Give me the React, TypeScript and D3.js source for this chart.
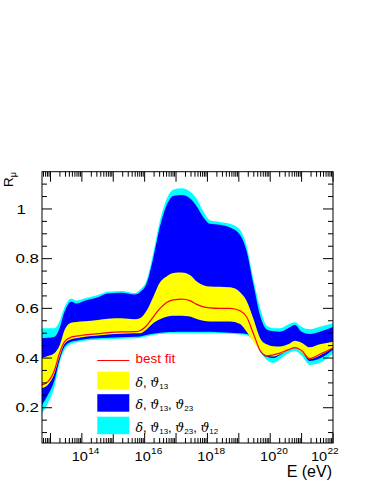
import React, { useEffect, useRef } from "react";
import * as d3 from "d3";

// log10(E / eV) sampling points
const logE = [12.73, 12.92, 13.13, 13.29, 13.45, 13.66, 13.82, 14.09, 14.51, 14.83, 15.26, 15.68, 15.85, 16.06, 16.27, 16.49, 16.7, 16.91, 17.18, 17.44, 17.66, 17.87, 18.08, 18.4, 18.72, 19.04, 19.25, 19.46, 19.68, 19.89, 20.1, 20.31, 20.57, 20.79, 21.0, 21.26, 21.58, 22.0];

// delta, th13, th23, th12 band
const cyanTop = [0.52, 0.52, 0.52, 0.548, 0.605, 0.64, 0.632, 0.641, 0.654, 0.667, 0.67, 0.662, 0.675, 0.712, 0.82, 0.955, 1.04, 1.077, 1.083, 1.07, 1.04, 0.99, 0.955, 0.948, 0.94, 0.915, 0.85, 0.72, 0.6, 0.53, 0.52, 0.52, 0.535, 0.544, 0.525, 0.516, 0.526, 0.54];
const cyanBottom = [0.178, 0.218, 0.285, 0.38, 0.433, 0.457, 0.463, 0.47, 0.474, 0.476, 0.478, 0.48, 0.481, 0.487, 0.493, 0.497, 0.499, 0.5, 0.5, 0.5, 0.5, 0.5, 0.5, 0.499, 0.498, 0.495, 0.492, 0.47, 0.425, 0.392, 0.38, 0.395, 0.418, 0.428, 0.41, 0.372, 0.38, 0.418];

// delta, th13, th23 band
const blueTop = [0.48, 0.482, 0.486, 0.52, 0.587, 0.627, 0.62, 0.631, 0.645, 0.66, 0.663, 0.656, 0.665, 0.7, 0.8, 0.93, 1.015, 1.052, 1.056, 1.043, 1.01, 0.967, 0.94, 0.936, 0.925, 0.895, 0.83, 0.7, 0.57, 0.515, 0.508, 0.506, 0.52, 0.533, 0.506, 0.497, 0.506, 0.525];
const blueBottom = [0.211, 0.252, 0.312, 0.392, 0.446, 0.466, 0.47, 0.476, 0.48, 0.482, 0.484, 0.486, 0.487, 0.493, 0.498, 0.502, 0.504, 0.505, 0.506, 0.506, 0.506, 0.506, 0.506, 0.504, 0.502, 0.5, 0.497, 0.48, 0.44, 0.405, 0.4, 0.412, 0.43, 0.44, 0.426, 0.388, 0.398, 0.433];

// delta, th13 band
const yellowTop = [0.4, 0.408, 0.42, 0.45, 0.513, 0.542, 0.545, 0.548, 0.553, 0.558, 0.56, 0.556, 0.56, 0.59, 0.645, 0.705, 0.728, 0.742, 0.744, 0.734, 0.708, 0.693, 0.688, 0.687, 0.685, 0.665, 0.63, 0.56, 0.48, 0.455, 0.447, 0.446, 0.455, 0.47, 0.462, 0.443, 0.455, 0.466];
const yellowBottom = [0.278, 0.292, 0.339, 0.406, 0.457, 0.476, 0.48, 0.486, 0.491, 0.495, 0.498, 0.5, 0.5, 0.515, 0.54, 0.556, 0.566, 0.57, 0.57, 0.567, 0.557, 0.55, 0.547, 0.547, 0.547, 0.537, 0.506, 0.468, 0.43, 0.41, 0.406, 0.415, 0.43, 0.44, 0.424, 0.395, 0.41, 0.44];

// best fit
const bestFit = [0.292, 0.305, 0.352, 0.42, 0.466, 0.484, 0.488, 0.493, 0.498, 0.502, 0.505, 0.506, 0.51, 0.53, 0.565, 0.6, 0.624, 0.634, 0.637, 0.631, 0.616, 0.606, 0.602, 0.6, 0.6, 0.59, 0.565, 0.5, 0.43, 0.408, 0.413, 0.42, 0.433, 0.442, 0.43, 0.398, 0.415, 0.44];

const yTickLabels = [0.2, 0.4, 0.6, 0.8, 1];
const xLabelExponents = [14, 16, 18, 20, 22];

const bands = [
    {name: "cyan", top: cyanTop, bottom: cyanBottom, color: "#00ffff"},
    {name: "blue", top: blueTop, bottom: blueBottom, color: "#0000ff"},
    {name: "yellow", top: yellowTop, bottom: yellowBottom, color: "#ffff00"}
];

// legend: greek parts are italic, subscripts small
const legendEntries = [
    {color: "#ffff00", parts: [["δ", "g"], [", ", "t"], ["ϑ", "g"], ["13", "s"]]},
    {color: "#0000ff", parts: [["δ", "g"], [", ", "t"], ["ϑ", "g"], ["13", "s"], [", ", "t"], ["ϑ", "g"], ["23", "s"]]},
    {color: "#00ffff", parts: [["δ", "g"], [", ", "t"], ["ϑ", "g"], ["13", "s"], [", ", "t"], ["ϑ", "g"], ["23", "s"], [", ", "t"], ["ϑ", "g"], ["12", "s"]]}
];

const WIDTH = 374;
const HEIGHT = 484;
const frame = {left: 42, right: 333, top: 171.7, bottom: 443};
const FONT = "'Liberation Sans', Arial, Helvetica, sans-serif";

const renderChart = (svg) => {
    svg.selectAll("*").remove();

    const x = d3.scaleLog()
        .domain([Math.pow(10, 12.73), 1e22])
        .range([frame.left, frame.right]);
    const y = d3.scaleLinear()
        .domain([0.058, 1.15])
        .range([frame.bottom, frame.top]);

    const energies = logE.map(d => Math.pow(10, d));

    svg.append("defs").append("clipPath")
        .attr("id", "plot-clip")
        .append("rect")
        .attr("x", frame.left)
        .attr("y", frame.top)
        .attr("width", frame.right - frame.left)
        .attr("height", frame.bottom - frame.top);

    const plotG = svg.append("g").attr("clip-path", "url(#plot-clip)");

    bands.forEach(band => {
        const area = d3.area()
            .x((d, i) => x(energies[i]))
            .y0((d, i) => y(band.bottom[i]))
            .y1((d, i) => y(band.top[i]))
            .curve(d3.curveMonotoneX);
        plotG.append("path")
            .attr("class", "band-" + band.name)
            .attr("d", area(logE))
            .attr("fill", band.color);
    });

    const line = d3.line()
        .x((d, i) => x(energies[i]))
        .y(d => y(d))
        .curve(d3.curveMonotoneX);
    plotG.append("path")
        .attr("d", line(bestFit))
        .attr("fill", "none")
        .attr("stroke", "#ff0000")
        .attr("stroke-width", 1.2);

    // frame
    svg.append("rect")
        .attr("x", frame.left)
        .attr("y", frame.top)
        .attr("width", frame.right - frame.left)
        .attr("height", frame.bottom - frame.top)
        .attr("fill", "none")
        .attr("stroke", "#000")
        .attr("stroke-width", 1);

    // x ticks (both sides, inward)
    const xTicks = [];
    for (let e = 12; e <= 22; e++) {
        for (let m = 1; m <= 9; m++) {
            const v = m * Math.pow(10, e);
            if (v >= x.domain()[0] && v <= x.domain()[1] * 1.0001) xTicks.push({v, major: m === 1});
        }
    }
    const tickG = svg.append("g").attr("stroke", "#000").attr("stroke-width", 1);
    xTicks.forEach(t => {
        const px = x(t.v);
        const len = t.major ? 10 : 5;
        tickG.append("line").attr("x1", px).attr("x2", px)
            .attr("y1", frame.bottom).attr("y2", frame.bottom - len);
        tickG.append("line").attr("x1", px).attr("x2", px)
            .attr("y1", frame.top).attr("y2", frame.top + len);
    });

    // y ticks every 0.05, labelled every 0.2
    for (let i = 2; i <= 22; i++) {
        const v = i * 0.05;
        const py = y(v);
        const len = i % 4 === 0 ? 10 : 5;
        tickG.append("line").attr("x1", frame.left).attr("x2", frame.left + len)
            .attr("y1", py).attr("y2", py);
        tickG.append("line").attr("x1", frame.right).attr("x2", frame.right - len)
            .attr("y1", py).attr("y2", py);
    }

    // y labels
    yTickLabels.forEach(v => {
        const isInt = Number.isInteger(v);
        svg.append("g")
            .attr("transform", `translate(${isInt ? 26 : 39}, ${y(v) + 4.6}) scale(1.3, 1)`)
            .append("text")
            .attr("text-anchor", "end")
            .attr("font-family", FONT)
            .attr("font-size", 13)
            .attr("fill", "#000")
            .text(String(v));
    });

    // x labels 10^n
    xLabelExponents.forEach((e, i) => {
        const last = i === xLabelExponents.length - 1;
        const px = x(Math.pow(10, e)) - 2 - (last ? 12 : 0);
        const g = svg.append("g")
            .attr("transform", `translate(${px}, 460.7) scale(1.12, 1)`);
        g.append("text")
            .attr("text-anchor", "middle")
            .attr("font-family", FONT)
            .attr("font-size", 13)
            .text("10");
        g.append("text")
            .attr("x", 7.5)
            .attr("y", -6.5)
            .attr("font-family", FONT)
            .attr("font-size", 9)
            .text(String(e));
    });

    // axis titles
    svg.append("text")
        .attr("x", 332)
        .attr("y", 476.5)
        .attr("text-anchor", "end")
        .attr("font-family", FONT)
        .attr("font-size", 16)
        .text("E (eV)");

    const rTitle = svg.append("text")
        .attr("transform", "translate(13.3, 172) rotate(-90)")
        .attr("text-anchor", "end")
        .attr("font-family", FONT)
        .attr("font-size", 13.5);
    rTitle.append("tspan").text("R");
    rTitle.append("tspan").attr("font-size", 9).attr("dy", 3).text("μ");

    // legend
    const legendX = 97.3;
    svg.append("line")
        .attr("x1", legendX).attr("x2", legendX + 32)
        .attr("y1", 360.5).attr("y2", 360.5)
        .attr("stroke", "#ff0000").attr("stroke-width", 1.2);
    svg.append("text")
        .attr("x", 135.5).attr("y", 363.4)
        .attr("font-family", FONT).attr("font-size", 13.5)
        .attr("fill", "#ff0000")
        .text("best fit");

    legendEntries.forEach((entry, i) => {
        const top = 371.7 + i * 22.5;
        svg.append("rect")
            .attr("x", legendX).attr("y", top)
            .attr("width", 32).attr("height", 17.5)
            .attr("fill", entry.color);
        const t = svg.append("text")
            .attr("x", 135.5).attr("y", top + 15)
            .attr("font-family", FONT).attr("font-size", 13);
        let prevSub = false;
        entry.parts.forEach(([txt, kind]) => {
            const span = t.append("tspan").text(txt);
            if (kind === "g") {
                span.attr("font-family", "'DejaVu Serif', serif").attr("font-style", "italic").attr("font-size", 12.5);
            } else if (kind === "s") {
                span.attr("font-size", 8).attr("dy", 2);
            }
            if (kind !== "s" && prevSub) span.attr("dy", -2);
            prevSub = kind === "s";
        });
    });
};

const App = () => {
    const svgRef = useRef(null);

    useEffect(() => {
        d3.select(svgRef.current).call(renderChart);
    });

    return (
        <svg ref={svgRef} width={WIDTH} height={HEIGHT}
             style={{position: "absolute", left: 0, top: 0, background: "#fff"}}/>
    );
};

export default App;
